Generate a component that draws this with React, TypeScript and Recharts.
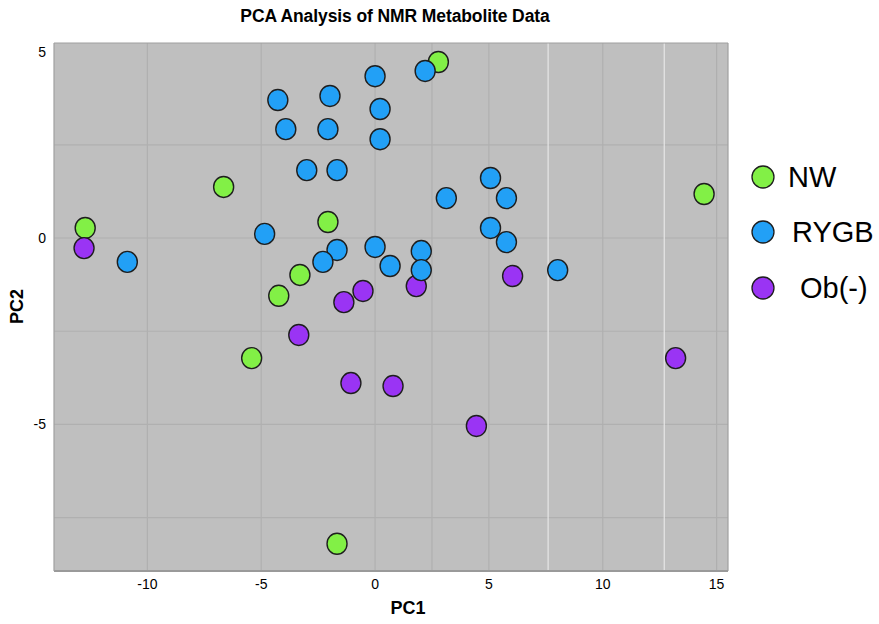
import React from 'react';
import { ScatterChart, Scatter, XAxis, YAxis, CartesianGrid, ReferenceLine } from 'recharts';

// Principal component scores per group
const nwPC1 = [2.78, -12.73, -6.65, -2.07, -3.3, -4.23, -5.42, -1.67, 14.45];
const nwPC2 = [4.72, 0.27, 1.37, 0.43, -0.99, -1.55, -3.22, -8.2, 1.18];

const rygbPC1 = [0, 2.2, -4.27, -1.98, 0.22, -3.92, -2.07, 0.22, -3.0, -1.67, 3.13, 5.07, 5.77, -4.85, -10.88, -1.67, -2.29, 0, 0.66, 2.03, 5.07, 5.77, 2.03, 8.02];
const rygbPC2 = [4.34, 4.48, 3.7, 3.81, 3.46, 2.92, 2.92, 2.65, 1.82, 1.82, 1.07, 1.61, 1.07, 0.11, -0.64, -0.32, -0.64, -0.24, -0.75, -0.35, 0.27, -0.11, -0.86, -0.86];

const obPC1 = [-12.78, 6.04, 1.81, -0.53, -1.37, -3.35, -1.06, 0.79, 4.45, 13.2];
const obPC2 = [-0.27, -1.02, -1.29, -1.42, -1.72, -2.6, -3.89, -3.97, -5.04, -3.22];

const xTicks = [-10, -5, 0, 5, 10, 15];
const yTicks = [-5, 0, 5];
const xGrid = [-10, -5, 0, 2.5, 5, 10, 15];
const xGridLight = [7.6, 12.7];
const yGrid = [2.5, 0, -2.5, -5, -7.5];
const xDomain = [-14.1, 15.5];
const yDomain = [-8.93, 5.23];

const legendOrder = ['NW', 'RYGB', 'Ob(-)'];

const toPoints = (xs: number[], ys: number[]) => xs.map((x, i) => ({ x, y: ys[i] }));

const nwData = toPoints(nwPC1, nwPC2);
const rygbData = toPoints(rygbPC1, rygbPC2);
const obData = toPoints(obPC1, obPC2);

const COLORS: Record<string, string> = {
  NW: '#82f046',
  RYGB: '#22a0f6',
  'Ob(-)': '#9a34f4',
};

const Dot = (props: any) => {
  const { cx, cy, fill } = props;
  if (cx == null || cy == null) return null;
  return <ellipse cx={cx} cy={cy} rx={10} ry={10.5} fill={fill} stroke="#1e1e1e" strokeWidth={1.4} />;
};

// legend rows: marker centre y and label start x
const legendRowY = [177, 232, 288];
const legendTextX = [788, 792, 800];

export default function App() {
  const font = '"Liberation Sans", Arial, sans-serif';
  return (
    <div style={{ position: 'absolute', left: 0, top: 0, width: 879, height: 624, background: '#fff', fontFamily: font }}>
      <div
        style={{
          position: 'absolute',
          left: 0,
          top: 6,
          width: 790,
          textAlign: 'center',
          fontWeight: 'bold',
          fontSize: 17.5,
          letterSpacing: -0.1,
        }}
      >
        PCA Analysis of NMR Metabolite Data
      </div>
      <ScatterChart width={879} height={624} margin={{ top: 43, right: 151, bottom: 23, left: 14 }}>
        <CartesianGrid
          fill="#bfbfbf"
          stroke="#b0b0b0"
          strokeWidth={1.2}
          horizontalValues={yGrid}
          verticalValues={xGrid}
        />
        {xGridLight.map((v) => (
          <ReferenceLine key={v} x={v} stroke="#e6e6e6" strokeWidth={1.2} />
        ))}
        <ReferenceLine y={yDomain[1]} stroke="#a0a0a0" strokeWidth={1.2} />
        <ReferenceLine x={xDomain[1]} stroke="#a0a0a0" strokeWidth={1.2} />
        <XAxis
          type="number"
          dataKey="x"
          domain={xDomain}
          ticks={xTicks}
          allowDataOverflow
          height={30}
          tickLine={false}
          axisLine={{ stroke: '#9a9a9a', strokeWidth: 2 }}
          tick={{ fill: '#000', fontSize: 14, fontFamily: font }}
        />
        <YAxis
          type="number"
          dataKey="y"
          domain={yDomain}
          ticks={yTicks}
          allowDataOverflow
          width={40}
          tickLine={false}
          axisLine={{ stroke: '#a0a0a0', strokeWidth: 1.2 }}
          tick={{ fill: '#000', fontSize: 14, fontFamily: font }}
        />
        <Scatter name="NW" data={nwData} fill={COLORS.NW} shape={Dot} isAnimationActive={false} />
        <Scatter name="Ob(-)" data={obData} fill={COLORS['Ob(-)']} shape={Dot} isAnimationActive={false} />
        <Scatter name="RYGB" data={rygbData} fill={COLORS.RYGB} shape={Dot} isAnimationActive={false} />
      </ScatterChart>
      <svg width={140} height={180} style={{ position: 'absolute', left: 739, top: 140 }}>
        {legendOrder.map((name, i) => (
          <g key={name}>
            <circle cx={763 - 739} cy={legendRowY[i] - 140} r={11} fill={COLORS[name]} stroke="#1e1e1e" strokeWidth={1.3} />
            <text
              x={legendTextX[i] - 739}
              y={legendRowY[i] - 140}
              dominantBaseline="central"
              fontSize={29}
              fontFamily={font}
              fill="#000"
            >
              {name}
            </text>
          </g>
        ))}
      </svg>
      <div
        style={{
          position: 'absolute',
          left: 358,
          top: 598,
          width: 100,
          textAlign: 'center',
          fontWeight: 'bold',
          fontSize: 18,
        }}
      >
        PC1
      </div>
      <div
        style={{
          position: 'absolute',
          left: -33,
          top: 296,
          width: 100,
          textAlign: 'center',
          fontWeight: 'bold',
          fontSize: 18,
          transform: 'rotate(-90deg)',
        }}
      >
        PC2
      </div>
    </div>
  );
}
